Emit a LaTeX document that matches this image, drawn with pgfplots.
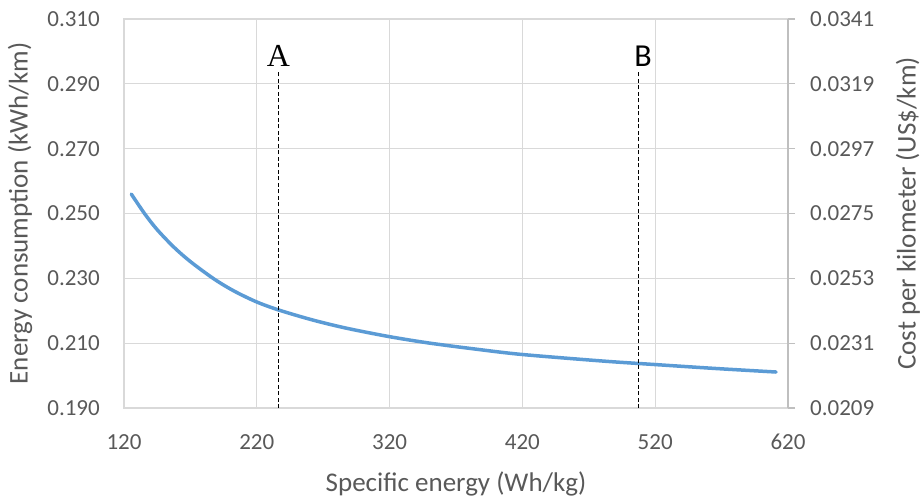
\documentclass[border=0pt]{standalone}
\usepackage{fontspec}
\setmainfont{Carlito}
\newfontfamily\serifA{Liberation Serif}
\usepackage{pgfplots}
\pgfplotsset{compat=1.18}
\definecolor{txt}{HTML}{595959}
\definecolor{gridc}{HTML}{D9D9D9}
\definecolor{axc}{HTML}{BFBFBF}
\definecolor{curve}{HTML}{5B9BD5}

\tikzset{lab/.style={txt, font=\fontsize{27}{32}\selectfont, anchor=center}}
\pgfplotsset{
  common/.style={
    scale only axis, width=664pt, height=389pt,
    xmin=120, xmax=620,
    scaled ticks=false,
    /pgf/number format/assume math mode=true,
    tick label style={txt, font=\fontsize{23}{28}\selectfont, inner sep=0pt},
  },
}

\begin{document}
\begin{tikzpicture}
\begin{axis}[
  common,
  ymin=0.19, ymax=0.31,
  xtick={120,220,320,420,520,620},
  ytick={0.19,0.21,0.23,0.25,0.27,0.29,0.31},
  yticklabel style={/pgf/number format/fixed, /pgf/number format/fixed zerofill, /pgf/number format/precision=3, anchor=east, xshift=-24pt},
  xticklabel style={/pgf/number format/fixed, /pgf/number format/precision=0, anchor=north, yshift=-26pt},
  grid=major,
  major grid style={gridc, line width=1.3pt},
  axis line style={gridc, line width=1.3pt},
  major tick length=0pt,
  xlabel={Specific energy (Wh/kg)},
  ylabel={Energy consumption (kWh/km)},
  every axis x label/.style={lab, at={(axis description cs:0.5,-0.195)}},
  every axis y label/.style={lab, at={(axis description cs:-0.1566,0.5)}, rotate=90},
]
\addplot[curve, line width=3.5pt, smooth, line cap=round] coordinates {
  (125.5,0.2560) (135.6,0.2499) (145,0.2450) (157.6,0.2396) (170.2,0.2351)
  (187.8,0.2298) (202.8,0.2261) (220,0.2227) (237.5,0.2201) (262.5,0.2171)
  (287.7,0.2146) (320,0.2120) (350.4,0.2100) (388,0.2080) (420,0.2065)
  (480,0.2045) (520,0.2034) (565,0.2022) (611,0.2011)
};
\addplot[black, line width=1.2pt, dash pattern=on 4pt off 2.5pt] coordinates {(236.2,0.19) (236.2,0.2936)};
\addplot[black, line width=1.2pt, dash pattern=on 4pt off 2.5pt] coordinates {(507.6,0.19) (507.6,0.2936)};
\node[anchor=base, inner sep=0pt, font=\serifA\fontsize{32}{36}\selectfont] at (axis cs:236.2,0.2952) {A};
\node[anchor=base, inner sep=0pt, font=\fontsize{32}{36}\selectfont] at (axis cs:510.8,0.2952) {B};
\coordinate (bl) at (rel axis cs:0,0);
\coordinate (tr) at (rel axis cs:1,1);
\end{axis}
\begin{axis}[
  common,
  ymin=0.0209, ymax=0.0341,
  axis x line=none,
  axis y line*=right,
  ytick={0.0209,0.0231,0.0253,0.0275,0.0297,0.0319,0.0341},
  yticklabel style={/pgf/number format/fixed, /pgf/number format/fixed zerofill, /pgf/number format/precision=4, anchor=west, xshift=15pt},
  axis line style={axc, line width=1.3pt},
  tick align=outside, major tick length=7pt,
  tick style={axc, line width=1.3pt},
  ylabel={Cost per kilometer (US\$/km)},
  every axis y label/.style={lab, at={(axis description cs:1.1807,0.5)}, rotate=90},
]
\end{axis}
\pgfresetboundingbox
\path ([xshift=-124pt,yshift=-89pt]bl) rectangle ([xshift=133pt,yshift=19pt]tr);
\end{tikzpicture}
\end{document}
